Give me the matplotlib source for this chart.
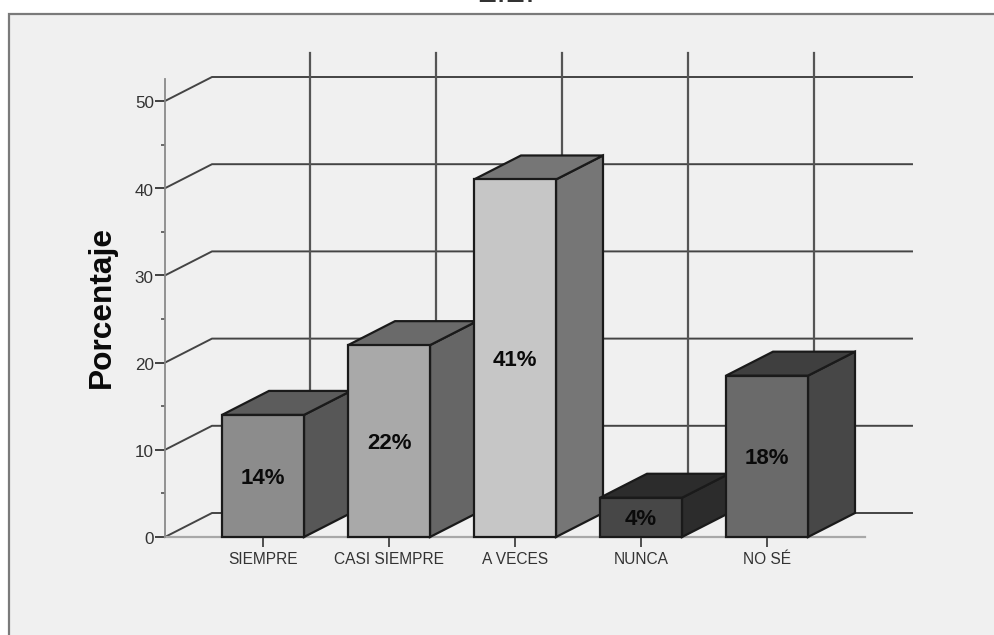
import matplotlib
matplotlib.use("Agg")
import matplotlib.pyplot as plt
from matplotlib.patches import Polygon, Rectangle
from matplotlib.transforms import ScaledTranslation

plt.rcParams['font.family'] = ['Liberation Sans', 'DejaVu Sans']

categories = ['SIEMPRE', 'CASI SIEMPRE', 'A VECES', 'NUNCA', 'NO SÉ']
values = [14.0, 22.0, 41.0, 4.5, 18.5]
labels = ['14%', '22%', '41%', '4%', '18%']
front_colors = ['#8c8c8c', '#a9a9a9', '#c6c6c6', '#474747', '#6a6a6a']
top_colors = ['#5c5c5c', '#6a6a6a', '#767676', '#2c2c2c', '#3f3f3f']
side_colors = ['#575757', '#666666', '#767676', '#2c2c2c', '#474747']
major_ticks = [0, 10, 20, 30, 40, 50]
minor_ticks = [5, 15, 25, 35, 45]

W, H = 994, 635
BG = '#f0f0f0'

fig = plt.figure(figsize=(W / 100, H / 100), dpi=100, facecolor='white')

# Outer chart panel, open at the right and bottom edges
panel = fig.add_axes([0, 0, 1, 1], zorder=0)
panel.set_xlim(0, W)
panel.set_ylim(H, 0)
panel.axis('off')
panel.add_patch(Rectangle((8.5, 14), W, H, facecolor=BG, edgecolor='#7a7a7a', lw=1.6))
panel.text(506, 1.5, '2.2.', fontsize=25, ha='center', va='baseline', color='#333333')

# Plot axes: pixel box x 165..865, y 79..537
ax = fig.add_axes([165 / W, 1 - 537 / H, 700 / W, 458 / H], zorder=1)
ax.patch.set_alpha(0)
px_x = 126.0          # pixels per category
px_y = 8.72           # pixels per percent
ax.set_xlim(-(263 - 165) / px_x, (865 - 263) / px_x)
ax.set_ylim(0, 458 / px_y)

dx = 47 / px_x        # depth offset in data units
dy = 24 / px_y
bw = 82 / px_x        # bar width

xleft, xright = ax.get_xlim()
back_right = xleft + (912 - 165) / px_x
back_top = (537 - 53) / px_y

# Wall grid: horizontal lines with their floor/side return to the axis
for t in major_ticks:
    ax.plot([xleft, xleft + dx, back_right], [t, t + dy, t + dy], color='#444444',
            lw=1.4, clip_on=False, zorder=1, solid_joinstyle='miter')
for i in range(len(categories)):
    ax.plot([i + dx, i + dx], [dy, back_top], color='#555555', lw=1.6,
            clip_on=False, zorder=1)

# 3-D bars
for i, v in enumerate(values):
    x0, x1 = i - bw / 2, i + bw / 2
    z = 3 + i * 0.01
    kw = dict(edgecolor='#1a1a1a', lw=1.6, joinstyle='miter', clip_on=False, zorder=z)
    ax.add_patch(Polygon([(x1, 0), (x1 + dx, dy), (x1 + dx, v + dy), (x1, v)],
                         facecolor=side_colors[i], **kw))
    ax.add_patch(Polygon([(x0, v), (x1, v), (x1 + dx, v + dy), (x0 + dx, v + dy)],
                         facecolor=top_colors[i], **kw))
    ax.add_patch(Polygon([(x0, 0), (x1, 0), (x1, v), (x0, v)],
                         facecolor=front_colors[i], **kw))
    ax.annotate(labels[i], (i, v / 2), xytext=(0, -1.5), textcoords='offset points',
                ha='center', va='center', fontsize=16, fontweight='bold',
                color='#0a0a0a', zorder=z + 0.5)

# Axes furniture
for s in ('top', 'right'):
    ax.spines[s].set_visible(False)
ax.spines['left'].set_color('#8a8a8a')
ax.spines['bottom'].set_color('#a8a8a8')
ax.spines['left'].set_linewidth(1.3)
ax.spines['bottom'].set_linewidth(1.6)
ax.spines['bottom'].set_zorder(2)

ax.set_xticks(range(len(categories)), categories)
ax.set_yticks(major_ticks)
ax.set_yticks(minor_ticks, minor=True)
ax.tick_params(axis='y', which='major', length=7, width=1.3, color='#333333',
               labelsize=12.3, labelcolor='#333333', pad=1)
ax.tick_params(axis='y', which='minor', length=3, width=1.1, color='#444444')
ax.tick_params(axis='x', which='major', length=7, width=1.2, color='#333333',
               labelsize=11.2, labelcolor='#333333', pad=3.5)

shift = ScaledTranslation(0, -1.5 / 100, fig.dpi_scale_trans)
for lab in ax.get_yticklabels():
    lab.set_transform(lab.get_transform() + shift)

fig.text(102 / W, 1 - 307 / H, 'Porcentaje', rotation=90, ha='center', va='center',
         fontsize=22.8, fontweight='bold', color='#0a0a0a')

fig.savefig('out.png', dpi=100, facecolor='white')
